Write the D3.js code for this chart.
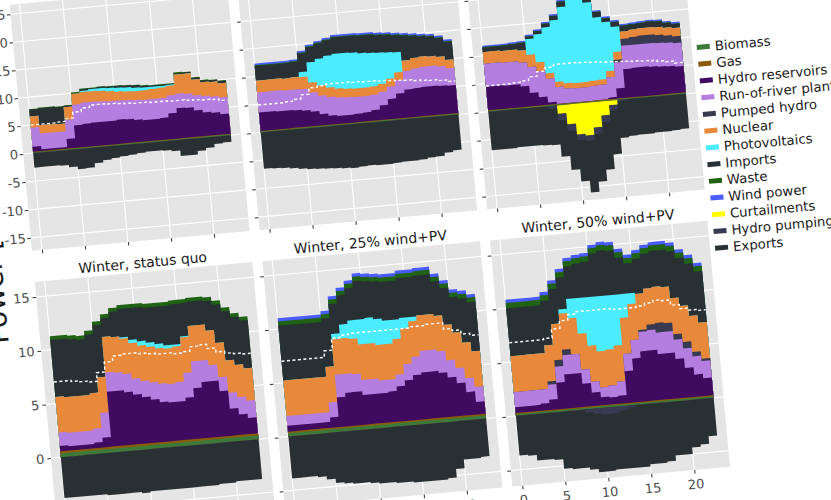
<!DOCTYPE html>
<html><head><meta charset="utf-8">
<script src="https://cdn.jsdelivr.net/npm/d3@7"></script>
<style>body{margin:0;background:#fff;overflow:hidden}svg{display:block}</style>
</head><body>
<svg id="chart" width="831" height="500"></svg>
<script>
const hours = [0,1,2,3,4,5,6,7,8,9,10,11,12,13,14,15,16,17,18,19,20,21,22,23];
const facetTitles = ["Summer, status quo","Summer, 25% wind+PV","Summer, 50% wind+PV","Winter, status quo","Winter, 25% wind+PV","Winter, 50% wind+PV"];
const seriesNames = ["Biomass","Gas","Hydro reservoirs","Run-of-river plants","Pumped hydro","Nuclear","Photovoltaics","Imports","Waste","Wind power","Curtailments","Hydro pumping","Exports"];
const seriesColors = ["#3c7a3a","#8a5c0c","#3f0a5f","#b47ee0","#383a52","#e8883a","#4cecff","#283033","#1f6214","#4a5cff","#ffff00","#383a52","#283033"];
const xTickValues = [0,5,10,15,20];
const yTickTop = [-15,-10,-5,0,5,10,15,20,25];
const yTickBottom = [-5,0,5,10,15];
const yTitle = "Power [GW]";

// series order = seriesNames; hourly values (GW)
const summerStatusQuo = [
 [0.15,0.15,0.15,0.15,0.15,0.15,0.15,0.15,0.15,0.15,0.15,0.15,0.15,0.15,0.15,0.15,0.15,0.15,0.15,0.15,0.15,0.15,0.15,0.15],
 [0.1,0.1,0.1,0.1,0.1,0.1,0.1,0.1,0.1,0.1,0.1,0.1,0.1,0.1,0.1,0.1,0.1,0.1,0.1,0.1,0.1,0.1,0.1,0.1],
 [0.9,0.3,0.3,0.3,1.7,4.0,4.1,4.2,4.2,4.2,4.3,4.2,4.0,3.8,3.8,3.9,4.6,5.4,5.3,4.7,4.2,4.0,3.6,3.6],
 [3.4,2.8,2.8,2.8,3.4,3.7,3.8,3.7,3.6,3.5,3.4,3.4,3.5,3.6,3.6,3.5,3.2,2.6,2.5,2.7,2.9,2.9,3.0,3.0],
 [0,0,0,0,0,0,0,0,0,0,0,0,0,0,0,0,0,0,0,0,0,0,0,0],
 [2.0,1.5,1.5,1.4,2.3,1.9,1.9,1.9,1.9,1.8,1.6,1.6,1.6,1.7,1.8,1.9,1.7,3.4,3.6,2.8,2.5,2.6,2.5,2.5],
 [0,0,0,0,0,0,0.2,0.4,0.5,0.6,0.7,0.7,0.6,0.5,0.4,0.3,0.2,0,0,0,0,0,0,0],
 [1.2,3.0,3.0,3.0,0.2,0,0.3,0.1,0.2,0.2,0.3,0.3,0.4,0.3,0.2,0.2,0.1,0.1,0.2,0.3,0.3,0.3,0.4,0.4],
 [0.1,0.1,0.1,0.1,0.1,0.3,0.1,0.1,0.1,0.1,0.1,0.1,0.1,0.1,0.1,0.1,0.1,0.3,0.1,0.1,0.1,0.1,0.1,0.1],
 [0,0,0,0,0,0,0,0,0,0,0,0,0,0,0,0,0,0,0,0,0,0,0,0],
 [0,0,0,0,0,0,0,0,0,0,0,0,0,0,0,0,0,0,0,0,0,0,0,0],
 [0,0,0,0,0,0,0,0,0,0,0,0,0,0,0,0,0,0,0,0,0,0,0,0],
 [-2.6,-2.6,-2.6,-2.7,-3.1,-3.6,-3.5,-2.8,-2.4,-2.2,-2.0,-1.9,-1.7,-1.6,-1.6,-1.7,-1.9,-2.9,-2.9,-2.3,-1.9,-1.3,-1.2,-1.2]
];
const summer25 = [
 [0.15,0.15,0.15,0.15,0.15,0.15,0.15,0.15,0.15,0.15,0.15,0.15,0.15,0.15,0.15,0.15,0.15,0.15,0.15,0.15,0.15,0.15,0.15,0.15],
 [0.1,0.1,0.1,0.1,0.1,0.1,0.1,0.1,0.1,0.1,0.1,0.1,0.1,0.1,0.1,0.1,0.1,0.1,0.1,0.1,0.1,0.1,0.1,0.1],
 [3.3,3.3,3.2,3.2,3.1,2.9,2.6,2.0,1.6,1.4,1.4,1.5,1.6,1.9,2.6,3.6,4.4,5.0,5.1,5.2,5.2,5.1,5.0,5.0],
 [3.6,3.6,3.7,3.6,3.7,3.8,3.4,3.3,3.3,3.3,3.2,3.0,2.9,2.7,2.4,2.2,2.4,3.3,3.5,3.6,3.6,3.5,3.1,3.1],
 [0,0,0,0,0,0,0,0,0,0,0,0,0,0,0,0,0,0,0,0,0,0,0,0],
 [2.1,2.1,2.1,2.1,2.2,2.2,1.8,1.8,1.7,1.6,1.5,1.5,1.5,1.5,1.4,1.4,1.4,1.9,1.9,1.8,1.7,1.7,1.5,1.5],
 [0,0,0,0,0,0.9,3.6,4.8,5.7,6.2,6.4,6.4,6.2,6.0,5.6,4.7,3.6,0,0,0,0,0,0,0],
 [2.6,2.6,2.6,2.7,2.7,3.3,2.7,2.7,2.7,2.9,2.9,3.0,3.1,3.2,3.1,3.1,3.0,4.4,3.9,3.6,3.5,3.3,3.2,3.2],
 [0.15,0.15,0.15,0.15,0.15,0.15,0.15,0.15,0.15,0.15,0.15,0.15,0.15,0.15,0.15,0.15,0.15,0.15,0.15,0.15,0.15,0.15,0.15,0.15],
 [0.3,0.3,0.3,0.3,0.3,0.3,0.3,0.3,0.3,0.3,0.3,0.3,0.3,0.3,0.3,0.3,0.3,0.3,0.3,0.3,0.3,0.3,0.3,0.3],
 [0,0,0,0,0,0,0,0,0,0,0,0,0,0,0,0,0,0,0,0,0,0,0,0],
 [0,0,0,0,0,0,0,0,0,0,0,0,0,0,0,0,0,0,0,0,0,0,0,0],
 [-6.5,-6.6,-6.7,-6.9,-7.1,-7.3,-7.4,-7.5,-7.6,-7.7,-7.8,-7.7,-7.6,-7.7,-7.7,-7.6,-7.5,-7.5,-7.4,-7.2,-7.1,-6.6,-6.3,-6.3]
];
const summer50 = [
 [0.15,0.15,0.15,0.15,0.15,0.15,0.15,0.15,0.15,0.15,0.15,0.15,0.15,0.15,0.15,0.15,0.15,0.15,0.15,0.15,0.15,0.15,0.15,0.15],
 [0.1,0.1,0.1,0.1,0.1,0.1,0.1,0.1,0.1,0.1,0.1,0.1,0.1,0.1,0.1,0.1,0.1,0.1,0.1,0.1,0.1,0.1,0.1,0.1],
 [4.2,4.2,4.1,4.1,3.7,2.4,1.5,0.4,0,0,0,0,0,0,0.3,1.8,5.1,5.2,5.2,5.1,5.0,4.9,4.7,4.7],
 [4.1,4.1,4.1,4.1,4.2,4.6,4.6,4.2,3.0,2.6,2.5,2.5,2.6,2.7,3.6,4.6,4.2,4.1,4.1,4.2,4.2,4.2,4.2,4.2],
 [0,0,0,0,0,0,0,0,0,0,0,0,0,0,0,0.5,1.2,1.4,1.5,1.5,1.4,1.3,1.2,1.2],
 [2.1,2.1,2.1,2.1,2.2,2.2,1.6,1.0,0.95,0.95,0.95,0.95,0.95,0.95,1.1,1.4,1.3,1.3,1.3,1.3,1.4,1.4,1.5,1.5],
 [0,0,0,0,0,2.8,5.0,8.2,11.0,13.6,17.7,19.9,14.0,11.1,8.8,4.5,0,0,0,0,0,0,0,0],
 [0.8,0.8,0.9,1.0,1.3,0.4,0.5,0.6,0.7,0.9,0.8,0.8,0.9,0.9,0.6,0.8,1.0,0.9,0.9,1.0,1.0,0.8,0.7,0.7],
 [0.1,0.1,0.1,0.1,0.1,0.1,0.1,0.1,0.1,0.1,0.1,0.1,0.1,0.1,0.1,0.1,0.1,0.1,0.1,0.1,0.1,0.1,0.1,0.1],
 [0.25,0.25,0.25,0.25,0.25,0.25,0.25,0.25,0.25,0.25,0.25,0.25,0.25,0.25,0.25,0.25,0.25,0.25,0.25,0.25,0.25,0.25,0.25,0.25],
 [0,0,0,0,0,0,0,0,-1.5,-3.5,-5.5,-5.8,-4.5,-2.5,-0.8,0,0,0,0,0,0,0,0,0],
 [0,0,0,0,0,0,0,-0.5,-1.2,-1.2,-1.0,-1.0,-1.2,-1.3,-1.0,-0.3,0,0,0,0,0,0,0,0],
 [-6.9,-6.9,-6.9,-6.8,-6.8,-6.8,-6.9,-6.5,-6.5,-7.0,-7.4,-9.2,-8.5,-8.4,-7.8,-6.5,-6.6,-6.5,-6.5,-6.4,-6.4,-6.3,-6.2,-6.2]
];
const winterStatusQuo = [
 [0.35,0.35,0.35,0.35,0.35,0.35,0.35,0.35,0.35,0.35,0.35,0.35,0.35,0.35,0.35,0.35,0.35,0.35,0.35,0.35,0.35,0.35,0.35,0.35],
 [0.2,0.2,0.2,0.2,0.2,0.2,0.2,0.2,0.2,0.2,0.2,0.2,0.2,0.2,0.2,0.2,0.2,0.2,0.2,0.2,0.2,0.2,0.2,0.2],
 [0.5,0.4,0.4,0.4,0.5,0.9,5.1,5.1,4.9,4.6,4.3,4.0,3.7,3.6,3.6,3.9,4.7,5.2,5.2,4.2,2.5,1.9,1.5,1.5],
 [1.25,1.25,1.25,1.25,1.3,2.3,1.8,1.7,1.7,1.5,1.5,1.6,1.7,1.7,1.8,2.3,2.5,2.0,1.5,1.3,1.5,1.6,1.6,1.6],
 [0,0,0,0,0,0,0,0,0,0,0,0,0,0,0,0,0,0,0,0,0,0,0,0],
 [3.3,3.3,3.3,3.3,3.3,3.3,3.3,3.3,3.3,3.3,3.3,3.3,3.3,3.3,3.3,3.3,3.3,3.3,3.2,3.2,3.0,3.0,3.0,3.0],
 [0,0,0,0,0,0,0,0,0.1,0.3,0.4,0.4,0.4,0.3,0.2,0.1,0,0,0,0,0,0,0,0],
 [5.3,5.4,5.3,5.2,5.45,4.85,1.75,2.35,2.65,2.95,3.15,3.25,3.45,3.65,3.75,3.05,2.25,2.25,2.75,3.55,4.55,4.45,4.45,4.45],
 [0.35,0.35,0.35,0.35,0.35,0.35,0.35,0.35,0.35,0.35,0.35,0.35,0.35,0.35,0.35,0.35,0.35,0.35,0.35,0.35,0.35,0.35,0.35,0.35],
 [0,0,0,0,0,0,0,0,0,0,0,0,0,0,0,0,0,0,0,0,0,0,0,0],
 [0,0,0,0,0,0,0,0,0,0,0,0,0,0,0,0,0,0,0,0,0,0,0,0],
 [0,0,0,0,0,0,0,0,0,0,0,0,0,0,0,0,0,0,0,0,0,0,0,0],
 [-3.8,-3.8,-3.8,-3.8,-3.8,-3.9,-3.9,-3.9,-3.9,-4.0,-3.9,-3.9,-3.9,-3.9,-3.9,-3.9,-3.9,-3.9,-3.8,-3.8,-3.7,-3.7,-3.7,-3.7]
];
const winter25 = [
 [0.3,0.3,0.3,0.3,0.3,0.3,0.3,0.3,0.3,0.3,0.3,0.3,0.3,0.3,0.3,0.3,0.3,0.3,0.3,0.3,0.3,0.3,0.3,0.3],
 [0.15,0.15,0.15,0.15,0.15,0.15,0.15,0.15,0.15,0.15,0.15,0.15,0.15,0.15,0.15,0.15,0.15,0.15,0.15,0.15,0.15,0.15,0.15,0.15],
 [0.55,0.55,0.55,0.55,0.55,0.95,2.75,3.1,3.1,2.75,2.75,2.75,2.85,3.25,3.75,4.15,4.35,4.35,4.15,3.65,3.05,2.15,1.15,1.15],
 [0.9,0.9,0.9,0.9,0.9,1.4,2.1,1.75,1.65,1.4,1.4,1.2,1.1,1.1,1.5,1.7,2.0,2.0,2.0,1.6,1.4,1.3,1.4,1.4],
 [0,0,0,0,0,0,0,0,0,0,0,0,0,0,0,0,0,0,0,0,0,0,0,0],
 [3.3,3.3,3.3,3.3,3.3,3.3,3.3,3.3,3.3,3.3,3.3,3.3,3.3,3.3,3.3,3.3,3.3,3.3,3.3,3.3,3.3,3.3,3.3,3.3],
 [0,0,0,0,0,0,0.5,1.3,1.7,2.3,2.4,2.4,2.2,1.8,1.0,0.4,0,0,0,0,0,0,0,0],
 [5.1,5.1,5.1,5.1,5.1,4.5,2.8,2.7,3.0,3.6,3.4,3.5,3.6,3.6,3.7,3.7,3.7,3.7,3.2,3.4,3.3,4.1,4.6,4.6],
 [0.4,0.4,0.4,0.4,0.4,0.4,0.4,0.4,0.4,0.4,0.4,0.4,0.4,0.4,0.4,0.4,0.4,0.4,0.4,0.4,0.4,0.4,0.4,0.4],
 [0.3,0.3,0.3,0.3,0.3,0.3,0.3,0.3,0.3,0.3,0.3,0.3,0.3,0.3,0.3,0.3,0.3,0.3,0.3,0.3,0.3,0.3,0.3,0.3],
 [0,0,0,0,0,0,0,0,0,0,0,0,0,0,0,0,0,0,0,0,0,0,0,0],
 [0,0,0,0,0,0,0,0,0,0,0,0,0,0,0,0,0,0,0,0,0,0,0,0],
 [-3.9,-3.9,-3.9,-4.0,-4.3,-4.7,-4.8,-4.9,-4.9,-5.0,-5.1,-5.1,-5.2,-5.2,-5.3,-5.3,-5.3,-5.3,-5.2,-4.4,-3.6,-3.6,-3.5,-3.5]
];
const winter50 = [
 [0.15,0.15,0.15,0.15,0.15,0.15,0.15,0.15,0.15,0.15,0.15,0.15,0.15,0.15,0.15,0.15,0.15,0.15,0.15,0.15,0.15,0.15,0.15,0.15],
 [0.1,0.1,0.1,0.1,0.1,0.1,0.1,0.1,0.1,0.1,0.1,0.1,0.1,0.1,0.1,0.1,0.1,0.1,0.1,0.1,0.1,0.1,0.1,0.1],
 [0.55,0.55,0.55,0.65,0.95,2.45,3.15,3.15,2.15,1.25,0.75,0.65,0.75,2.95,4.05,4.65,4.65,4.25,4.25,3.65,2.75,2.05,1.65,1.65],
 [1.4,1.4,1.4,1.3,1.4,1.5,1.8,1.8,1.3,1.0,0.9,1.1,1.3,1.6,1.7,1.8,1.9,2.0,2.0,1.8,1.8,1.7,1.6,1.6],
 [0,0,0,0,0.3,0.6,0.5,0,0,0,0,0,0,0,0,0.2,0.5,0.9,0.8,0.5,0.6,0.4,0.2,0.2],
 [3.35,3.35,3.35,3.35,3.35,3.35,3.35,3.35,3.35,3.35,3.35,3.35,3.35,3.35,3.35,3.35,3.35,3.35,3.35,3.35,3.35,3.35,3.35,3.35],
 [0,0,0,0,0,0,0.4,1.8,3.3,4.5,5.1,5.0,4.7,2.2,1.0,0,0,0,0,0,0,0,0,0],
 [4.45,4.45,4.45,4.45,4.15,3.25,2.95,3.0,3.2,3.3,4.0,4.2,4.1,3.4,2.8,3.25,3.25,3.35,3.45,4.35,4.45,4.85,4.75,4.75],
 [0.5,0.5,0.5,0.5,0.5,0.5,0.5,0.5,0.5,0.5,0.5,0.5,0.5,0.5,0.5,0.5,0.5,0.5,0.5,0.5,0.5,0.5,0.5,0.5],
 [0.3,0.3,0.3,0.3,0.3,0.3,0.3,0.3,0.3,0.3,0.3,0.3,0.3,0.3,0.3,0.3,0.3,0.3,0.3,0.3,0.3,0.3,0.3,0.3],
 [0,0,0,0,0,0,0,0,0,0,0,0,0,0,0,0,0,0,0,0,0,0,0,0],
 [0,0,0,0,0,0,0,0,-0.3,-0.5,-0.6,-0.6,-0.4,-0.2,0,0,0,0,0,0,0,0,0,0],
 [-3.7,-3.8,-4.3,-4.3,-4.4,-5.3,-5.4,-5.4,-5.3,-5.4,-5.3,-5.2,-5.4,-5.6,-5.8,-5.6,-5.6,-5.5,-5.0,-5.0,-4.4,-4.2,-3.5,-3.5]
];
// white dashed line (load)
const loadSummerSQ = [5.0,5.0,5.0,5.1,5.6,6.6,7.2,7.6,7.6,7.5,7.4,7.3,7.2,7.2,7.1,7.1,7.0,7.0,6.9,6.8,6.7,6.6,6.3,6.3];
const loadSummer25 = [4.9,4.9,4.9,5.0,5.3,6.0,7.1,7.3,7.5,7.5,7.5,7.4,7.3,7.3,7.2,7.1,7.0,6.9,6.7,6.6,6.5,6.3,6.0,6.0];
const loadSummer50 = [4.6,4.6,4.6,4.7,4.9,5.5,6.3,6.9,7.3,7.3,7.3,7.2,7.1,7.0,6.9,6.8,6.7,6.6,6.5,6.4,6.2,6.0,5.6,5.6];
const loadWinterSQ = [7.0,7.0,6.9,6.8,6.7,7.5,8.4,8.9,9.0,9.0,8.9,8.8,8.7,8.7,8.6,8.7,9.1,9.2,8.8,8.4,8.2,8.1,8.0,8.0];
const loadWinter25 = [7.0,7.0,7.0,7.0,7.0,7.6,8.7,8.9,9.0,9.0,9.0,9.0,9.0,9.0,9.0,9.1,9.1,9.2,9.2,8.6,8.4,8.0,7.8,7.8];
const loadWinter50 = [6.8,6.8,6.8,6.8,6.9,7.7,8.4,8.9,9.1,9.1,9.1,9.1,9.0,9.0,9.0,9.1,9.3,9.5,9.4,8.9,8.5,8.3,8.2,8.2];

const facets = [summerStatusQuo, summer25, summer50, winterStatusQuo, winter25, winter50];
const loads = [loadSummerSQ, loadSummer25, loadSummer50, loadWinterSQ, loadWinter25, loadWinter50];

// ---- layout ----
const FONT = '"DejaVu Sans", Verdana, sans-serif';
const svg = d3.select('#chart');
const defs = svg.append('defs');
const root = svg.append('g').attr('transform', 'rotate(-5.2,415,250)');
const colX = [33.5, 262, 490.5], panelW = 218.5;
const rowY = [[-31, 216], [247.3, 494.4]];
const xDomain = [-1.15, 24.15];
const yDomains = [[-17.3, 26.7], [-6.5, 16.4]];
const yTicksByRow = [yTickTop, yTickBottom];
const negIdx = [10, 11, 12];

facets.forEach((series, i) => {
  const row = Math.floor(i / 3), col = i % 3;
  const x0 = colX[col], x1 = x0 + panelW;
  const [yt, yb] = rowY[row];
  const x = d3.scaleLinear().domain(xDomain).range([x0, x1]);
  const y = d3.scaleLinear().domain(yDomains[row]).range([yb, yt]);
  const p = root.append('g');
  p.append('rect').attr('x', x0).attr('y', yt).attr('width', panelW).attr('height', yb - yt).attr('fill', '#e5e5e5');
  p.selectAll('line.gy').data(yTicksByRow[row]).join('line')
    .attr('x1', x0).attr('x2', x1).attr('y1', d => y(d)).attr('y2', d => y(d))
    .attr('stroke', '#fff').attr('stroke-width', 1.1);
  p.selectAll('line.gx').data(xTickValues).join('line')
    .attr('y1', yt).attr('y2', yb).attr('x1', d => x(d)).attr('x2', d => x(d))
    .attr('stroke', '#fff').attr('stroke-width', 1.1);

  defs.append('clipPath').attr('id', 'cp' + i).append('rect')
    .attr('x', x0).attr('y', yt).attr('width', panelW).attr('height', yb - yt);
  const dg = p.append('g').attr('clip-path', `url(#cp${i})`);

  // cumulative stacking
  const posCum = hours.map(() => 0), negCum = hours.map(() => 0);
  const tops = series.map((vals, k) => {
    const isNeg = negIdx.includes(k);
    return hours.map(h => {
      if (isNeg) { negCum[h] += vals[h]; return negCum[h]; }
      posCum[h] += vals[h]; return posCum[h];
    });
  });
  const area = d3.area().curve(d3.curveStepAfter)
    .x(h => x(h)).y0(y(0));
  const order = [9, 8, 7, 6, 5, 4, 3, 2, 1, 0, 12, 11, 10];
  order.forEach(k => {
    if (series[k].every(v => v === 0)) return;
    dg.append('path').datum(hours)
      .attr('d', area.y1(h => y(tops[k][h])))
      .attr('fill', seriesColors[k]);
  });
  // dashed load line
  dg.append('path').datum(hours)
    .attr('d', d3.line().curve(d3.curveStepAfter).x(h => x(h)).y(h => y(loads[i][h])))
    .attr('fill', 'none').attr('stroke', '#fff').attr('stroke-width', 1.4)
    .attr('stroke-dasharray', '3,2.5');

  // axes
  const fmt = d => String(d);
  const ya = d3.axisLeft(y).tickValues(yTicksByRow[row]).tickSize(3.65).tickPadding(row === 0 ? 1.5 : 3)
    .tickFormat(col === 0 ? fmt : '');
  const yg = p.append('g').attr('transform', `translate(${x0},0)`).call(ya);
  const xa = d3.axisBottom(x).tickValues(xTickValues).tickSize(3.65).tickPadding(6)
    .tickFormat(row === 0 ? '' : fmt);
  const xg = p.append('g').attr('transform', `translate(0,${yb})`).call(xa);
  [yg, xg].forEach(ax => {
    ax.select('.domain').remove();
    ax.selectAll('line').attr('stroke', '#333').attr('stroke-width', 1);
    ax.selectAll('text').attr('fill', '#4d4d4d').style('font-family', FONT).style('font-size', '13px');
  });

  // strip title
  p.append('text').attr('x', (x0 + x1) / 2).attr('y', yt - 4.5)
    .attr('text-anchor', 'middle').attr('fill', '#1a1a1a')
    .style('font-family', FONT).style('font-size', '14px').text(facetTitles[i]);
});

// y axis title
root.append('text').attr('transform', 'translate(2,306) rotate(-90)')
  .attr('fill', '#1a1a1a').style('font-family', FONT).style('font-size', '28px').text(yTitle);

// legend
const lg = root.append('g');
seriesNames.forEach((name, k) => {
  const cy = 73.9 + 16.8 * k;
  lg.append('rect').attr('x', 714).attr('y', cy - 2.5).attr('width', 13).attr('height', 5).attr('fill', seriesColors[k]);
  lg.append('text').attr('x', 732).attr('y', cy + 4.6).attr('fill', '#1a1a1a')
    .style('font-family', FONT).style('font-size', '13.3px').text(name);
});
</script>
</body></html>
